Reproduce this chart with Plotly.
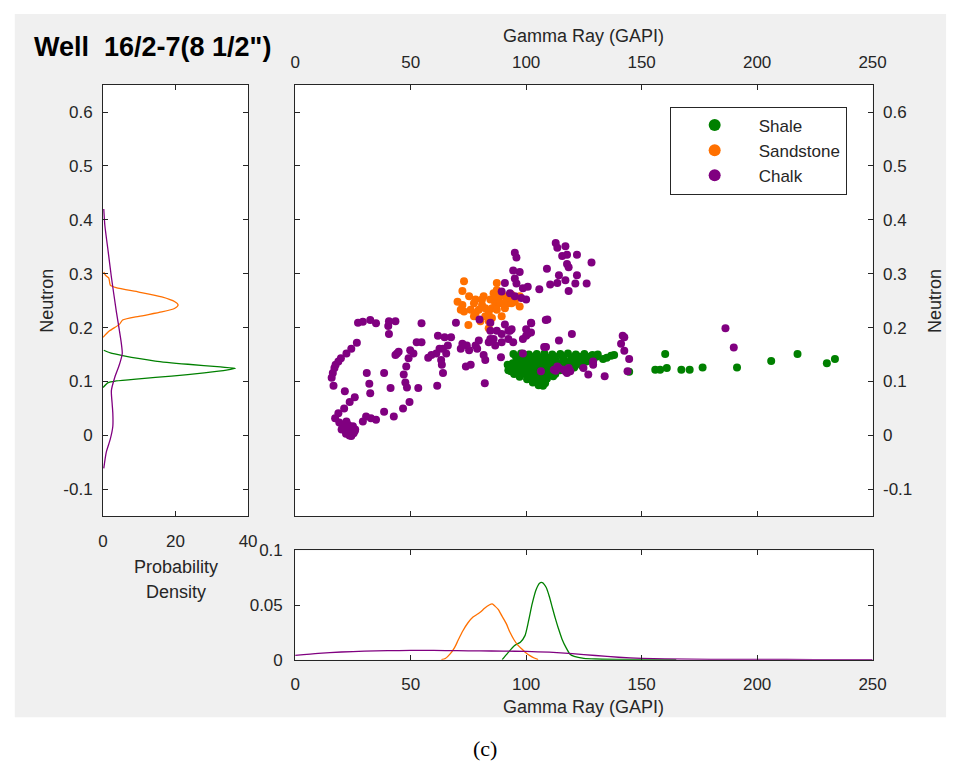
import plotly.graph_objects as go

# ---------------------------------------------------------------- data
# Gamma Ray (GAPI) vs Neutron samples per lithology
shale_gr = [94.5, 97.8, 101.2, 104.6, 107.9, 111.3, 114.8, 118.1, 121.5, 125.2, 128.7,
            95.6, 98.9, 102.3, 105.7, 109.0, 112.4, 115.9, 119.6, 123.0, 126.8,
            96.3, 99.7, 103.1, 106.2, 109.6, 112.9, 116.4, 120.1,
            94.2, 97.4, 100.6, 103.8, 106.9, 110.2, 113.6, 117.3,
            93.1, 96.2, 99.3, 102.1, 104.9, 107.8, 110.7, 114.0, 118.2,
            92.6, 95.4, 98.5, 101.3, 104.1, 106.8, 109.6, 112.5, 115.8,
            93.4, 96.6, 99.8, 102.7, 105.5, 108.4, 111.3, 114.6,
            94.8, 98.1, 101.0, 103.9, 106.7, 109.5, 112.6,
            97.2, 100.3, 103.2, 106.0, 108.9, 111.7,
            100.4, 103.3, 106.1, 109.0,
            102.9, 105.6, 108.2,
            105.4, 107.3, 92.3, 92.0,
            121.8, 123.9, 126.1, 119.4, 122.6, 124.2, 117.9, 120.8, 130.4, 134.9, 138.1,
            124.8, 129.0, 133.3, 136.8, 131.0, 128.0, 144.6,
            160.2, 155.9, 158.0, 160.9, 167.2, 170.8, 176.4, 191.3, 206.1, 217.5, 230.2, 233.7]
shale_nphi = [0.151, 0.152, 0.150, 0.151, 0.152, 0.150, 0.151, 0.152, 0.150, 0.151, 0.149,
              0.146, 0.144, 0.146, 0.145, 0.144, 0.146, 0.145, 0.144, 0.146, 0.143,
              0.139, 0.141, 0.140, 0.139, 0.141, 0.139, 0.140, 0.139,
              0.134, 0.136, 0.135, 0.134, 0.136, 0.135, 0.134, 0.136,
              0.129, 0.131, 0.130, 0.129, 0.131, 0.130, 0.129, 0.131, 0.129,
              0.125, 0.124, 0.126, 0.125, 0.124, 0.126, 0.125, 0.124, 0.126,
              0.119, 0.121, 0.120, 0.119, 0.121, 0.120, 0.119, 0.121,
              0.114, 0.116, 0.115, 0.114, 0.116, 0.115, 0.114,
              0.109, 0.111, 0.110, 0.109, 0.111, 0.110,
              0.104, 0.105, 0.103, 0.105,
              0.098, 0.099, 0.097,
              0.093, 0.092, 0.121, 0.131,
              0.136, 0.139, 0.137, 0.131, 0.133, 0.129, 0.125, 0.126, 0.146, 0.144, 0.149,
              0.143, 0.145, 0.142, 0.148, 0.150, 0.147, 0.118,
              0.151, 0.122, 0.122, 0.125, 0.122, 0.122, 0.126, 0.126, 0.138, 0.151, 0.134, 0.142]

sand_gr = [73.1, 87.3, 72.4, 75.3, 70.3, 78.1, 81.6, 85.9, 88.0, 90.8, 93.7, 97.2, 97.2,
           92.3, 86.6, 80.9, 76.0, 73.1, 78.1, 83.8, 89.4, 85.2, 80.2, 75.0, 83.8, 90.8,
           95.1, 77.4, 79.5, 82.3, 85.2, 87.3, 84.5, 86.6, 88.7, 82.3, 71.7, 72.4, 92.3,
           87.3, 80.9, 77.4, 93.7, 83.8, 90.1]
sand_nphi = [0.286, 0.283, 0.268, 0.258, 0.248, 0.252, 0.258, 0.264, 0.255, 0.258, 0.261, 0.258, 0.239,
             0.245, 0.245, 0.242, 0.233, 0.230, 0.227, 0.227, 0.221, 0.218, 0.212, 0.205, 0.199, 0.236,
             0.248, 0.245, 0.233, 0.236, 0.236, 0.233, 0.252, 0.258, 0.245, 0.221, 0.233, 0.242, 0.254,
             0.270, 0.252, 0.221, 0.245, 0.212, 0.245]

chalk_gr = [15.8, 16.3, 17.0, 17.5, 18.7, 19.8, 22.2, 24.3, 26.7, 16.6, 21.5, 23.6, 25.8, 21.2,
            18.7, 17.3, 19.1, 20.1, 21.5, 22.9, 24.3, 25.8, 23.6, 22.2, 25.0, 29.3, 30.7, 32.8,
            35.0, 38.5, 42.7, 46.7, 49.5, 53.3, 61.5, 64.0, 63.5, 59.0, 57.6, 54.7, 52.6, 51.2,
            49.8, 49.1, 48.1, 47.0, 47.7, 48.4, 44.1, 43.4, 44.8, 41.3, 38.5, 32.1, 31.0, 32.5,
            27.2, 29.3, 32.5, 35.0, 40.6, 43.4, 40.3, 40.6, 54.7,
            61.8, 64.7, 67.5, 66.1, 62.5, 61.1, 65.4, 63.2, 69.6, 72.4, 71.7, 75.3, 78.1, 79.5,
            79.8, 82.3, 81.6, 84.5, 85.9, 87.3, 89.4, 92.3, 93.7, 90.8, 94.4, 84.5, 84.5, 89.4,
            98.6, 100.7, 102.1, 102.1, 109.2, 114.2, 119.8, 89.1, 82.1, 73.9, 76.0, 74.3, 98.6,
            108.6, 78.8, 83.8, 86.6, 92.3, 100.0, 64.0,
            95.1, 95.8, 94.4, 97.2, 95.1, 90.8, 95.8, 98.6, 100.7, 105.7, 95.1, 97.9, 100.0,
            93.0, 109.0, 112.8, 113.5, 117.0, 115.6, 117.7, 122.0, 117.7, 118.4, 114.2, 117.0,
            121.3, 126.2, 110.4, 113.5, 118.4, 128.3, 122.0, 89.4,
            106.4, 112.0, 113.5, 116.3, 117.7, 119.1, 124.8, 126.9, 129.0, 134.0, 129.0,
            118.4, 117.0, 114.2, 112.8,
            102.2, 108.5, 93.0, 100.0, 107.8,
            141.8, 142.5, 141.1, 142.5, 144.6, 143.9, 186.3, 189.9,
            21.5, 23.0, 24.5, 22.0, 23.5, 25.3, 20.5, 22.8, 24.8, 26.0]
chalk_nphi = [0.107, 0.116, 0.125, 0.131, 0.137, 0.143, 0.152, 0.161, 0.172, 0.092, 0.082, 0.062, 0.071, 0.050,
              0.041, 0.032, 0.024, 0.011, 0.014, 0.005, -0.001, 0.008, 0.017, 0.026, 0.017, 0.026, 0.035, 0.032,
              0.029, 0.044, 0.035, 0.050, 0.062, 0.088, 0.092, 0.116, 0.131, 0.149, 0.144, 0.173, 0.173, 0.152,
              0.158, 0.143, 0.128, 0.113, 0.098, 0.089, 0.152, 0.149, 0.155, 0.088, 0.116, 0.096, 0.116, 0.078,
              0.209, 0.211, 0.214, 0.208, 0.212, 0.212, 0.203, 0.188, 0.208,
              0.185, 0.182, 0.182, 0.167, 0.161, 0.152, 0.152, 0.140, 0.209, 0.170, 0.161, 0.158, 0.167, 0.176,
              0.215, 0.140, 0.149, 0.179, 0.179, 0.194, 0.188, 0.194, 0.197, 0.206, 0.173, 0.209, 0.194, 0.173,
              0.179, 0.188, 0.191, 0.209, 0.215, 0.176, 0.188, 0.145, 0.097, 0.128, 0.131, 0.167, 0.152,
              0.164, 0.161, 0.173, 0.167, 0.179, 0.197, 0.161,
              0.339, 0.330, 0.306, 0.303, 0.291, 0.283, 0.282, 0.273, 0.276, 0.271, 0.258, 0.255, 0.252,
              0.264, 0.309, 0.357, 0.348, 0.351, 0.333, 0.335, 0.335, 0.318, 0.312, 0.297, 0.288,
              0.282, 0.282, 0.280, 0.283, 0.268, 0.321, 0.297, 0.267,
              0.119, 0.122, 0.128, 0.122, 0.116, 0.119, 0.125, 0.113, 0.137, 0.110, 0.131,
              0.125, 0.119, 0.125, 0.120,
              0.208, 0.214, 0.194, 0.185, 0.164,
              0.185, 0.182, 0.170, 0.157, 0.142, 0.119, 0.199, 0.163,
              0.010, 0.012, 0.009, 0.003, 0.000, 0.004, 0.018, 0.020, 0.014, 0.011]

# Neutron probability density (left panel): density, neutron
shale_nd_pdf = [0.0, 1.4, 3.6, 9.9, 18.9, 27.9, 34.0, 36.5, 32.4, 23.4, 14.4, 5.4, 2.0, 0.2]
shale_nd_y = [0.089, 0.098, 0.101, 0.105, 0.110, 0.116, 0.121, 0.1245, 0.127, 0.132, 0.138, 0.148, 0.153, 0.158]
sand_nd_pdf = [0.2, 0.7, 1.6, 2.0, 3.6, 9.9, 16.2, 19.8, 20.7, 19.8, 16.2, 9.9, 5.4, 4.5, 1.8, 0.0]
sand_nd_y = [0.303, 0.297, 0.292, 0.279, 0.274, 0.266, 0.257, 0.248, 0.242, 0.236, 0.229, 0.221, 0.214, 0.206, 0.194, 0.182]
chalk_nd_pdf = [0.2, 0.5, 1.4, 2.3, 3.6, 5.0, 5.3, 4.5, 3.2, 2.3, 2.5, 2.7, 2.7, 2.0, 0.9, 0.2]
chalk_nd_y = [0.42, 0.39, 0.342, 0.294, 0.233, 0.173, 0.152, 0.131, 0.107, 0.083, 0.06, 0.041, 0.017, -0.007, -0.031, -0.061]

# Gamma Ray probability density (bottom panel): gamma ray, density
shale_gr_x = [89.6, 92, 95, 97.5, 99.5, 101, 102.6, 104.3, 105.8, 107, 108.7, 110, 111.3, 112.6,
              113.9, 115.5, 117.4, 119, 120.8, 125, 130, 140, 150, 165]
shale_gr_pdf = [0, 0.006, 0.013, 0.016, 0.022, 0.035, 0.051, 0.064, 0.070, 0.0705, 0.066, 0.058, 0.048, 0.038,
                0.029, 0.019, 0.0105, 0.005, 0.003, 0.0012, 0.0006, 0.0003, 0.0001, 0]
sand_gr_x = [63.3, 65, 67, 69, 70.6, 72.5, 74.9, 77, 79.2, 80.5, 82, 84, 85.3, 86.5, 87.9, 89.5,
             91.4, 93, 94.8, 96.5, 98.3, 100, 101.8, 103.5, 105.2]
sand_gr_pdf = [0, 0.001, 0.005, 0.011, 0.018, 0.026, 0.034, 0.039, 0.042, 0.044, 0.047, 0.050, 0.051, 0.049,
               0.046, 0.040, 0.033, 0.025, 0.018, 0.013, 0.0095, 0.006, 0.0035, 0.0015, 0]
chalk_gr_x = [0, 10, 20, 30, 40, 50, 60, 70, 80, 90, 100, 110, 120, 130, 140, 150, 160, 180, 200, 225, 250]
chalk_gr_pdf = [0.0039, 0.0057, 0.0070, 0.0078, 0.0082, 0.0084, 0.0084, 0.0082, 0.0080, 0.0078, 0.0075,
                0.0068, 0.0055, 0.0038, 0.0022, 0.0012, 0.0007, 0.0003, 0.0002, 0.0001, 0.0001]

# tick definitions
gr_ticks = [0, 50, 100, 150, 200, 250]
nphi_ticks = [-0.1, 0, 0.1, 0.2, 0.3, 0.4, 0.5, 0.6]
nphi_labels = ["-0.1", "0", "0.1", "0.2", "0.3", "0.4", "0.5", "0.6"]
nd_pdf_ticks = [0, 20, 40]
gr_pdf_ticks = [0, 0.05, 0.1]
gr_pdf_labels = ["0", "0.05", "0.1"]

colors = {"Shale": "#008000", "Sandstone": "#ff7000", "Chalk": "#800080"}

# ---------------------------------------------------------------- layout helpers
W, H = 966, 775


def fx(p):
    return p / W


def fy(p):
    return 1 - p / H


FONT = "Liberation Sans, Arial, sans-serif"
INK = "#262626"
TICKFONT = dict(family=FONT, size=17, color=INK)

fig = go.Figure()

# left panel: neutron densities
for name, xs, ys in [("Shale", shale_nd_pdf, shale_nd_y),
                     ("Sandstone", sand_nd_pdf, sand_nd_y),
                     ("Chalk", chalk_nd_pdf, chalk_nd_y)]:
    fig.add_trace(go.Scatter(x=xs, y=ys, mode="lines", xaxis="x", yaxis="y",
                             line=dict(color=colors[name], width=1.3, shape="spline", smoothing=0.6),
                             showlegend=False, hoverinfo="skip"))

# main panel: cross-plot
for name, xs, ys in [("Shale", shale_gr, shale_nphi),
                     ("Sandstone", sand_gr, sand_nphi),
                     ("Chalk", chalk_gr, chalk_nphi)]:
    fig.add_trace(go.Scatter(x=xs, y=ys, mode="markers", xaxis="x2", yaxis="y2", name=name,
                             marker=dict(color=colors[name], size=8, line=dict(width=0))))

# bottom panel: gamma ray densities
for name, xs, ys in [("Shale", shale_gr_x, shale_gr_pdf),
                     ("Sandstone", sand_gr_x, sand_gr_pdf),
                     ("Chalk", chalk_gr_x, chalk_gr_pdf)]:
    fig.add_trace(go.Scatter(x=xs, y=ys, mode="lines", xaxis="x3", yaxis="y3",
                             line=dict(color=colors[name], width=1.3, shape="spline", smoothing=0.6),
                             showlegend=False, hoverinfo="skip"))

axis_common = dict(showline=True, linecolor=INK, linewidth=1, mirror="ticks",
                   ticks="inside", ticklen=5, tickcolor=INK, tickwidth=1,
                   showgrid=False, zeroline=False, tickfont=TICKFONT, fixedrange=True)

dom_main_x = [fx(296), fx(885)]
dom_left_x = [fx(100), fx(248)]
dom_upper_y = [fy(520), fy(78)]
dom_bottom_y = [fy(667), fy(555)]

fig.update_layout(
    width=W, height=H,
    margin=dict(l=0, r=0, t=0, b=0),
    paper_bgcolor="white",
    plot_bgcolor="white",
    xaxis=dict(axis_common, domain=dom_left_x, range=[0, 40], tickvals=nd_pdf_ticks,
               anchor="y", ticklabelstandoff=9),
    yaxis=dict(axis_common, domain=dom_upper_y, range=[-0.15, 0.65], tickvals=nphi_ticks,
               ticktext=nphi_labels, anchor="x", ticklabelstandoff=6),
    xaxis2=dict(axis_common, domain=dom_main_x, range=[0, 250], tickvals=gr_ticks,
                side="top", anchor="y2", ticklabelstandoff=9),
    yaxis2=dict(axis_common, domain=dom_upper_y, range=[-0.15, 0.65], tickvals=nphi_ticks,
                ticktext=nphi_labels, side="right", anchor="x2", ticklabelstandoff=6),
    xaxis3=dict(axis_common, domain=dom_main_x, range=[0, 250], tickvals=gr_ticks,
                anchor="y3", ticklabelstandoff=9),
    yaxis3=dict(axis_common, domain=dom_bottom_y, range=[0, 0.1], tickvals=gr_pdf_ticks,
                ticktext=gr_pdf_labels, anchor="x3", ticklabelstandoff=8),
    legend=dict(x=fx(678), y=fy(100), xanchor="left", yanchor="top",
                bgcolor="white", bordercolor=INK, borderwidth=1,
                font=dict(family=FONT, size=17, color=INK),
                itemsizing="constant", itemwidth=78, tracegroupgap=0),
    showlegend=True,
)

# grey figure background and white axes faces
shapes = [dict(type="rect", xref="paper", yref="paper", x0=fx(10), x1=fx(960), y0=fy(726), y1=fy(5),
               fillcolor="#f0f0f0", line=dict(width=0), layer="below")]
for xa, ya in [("x", "y"), ("x2", "y2"), ("x3", "y3")]:
    shapes.append(dict(type="rect", xref=f"{xa} domain", yref=f"{ya} domain", x0=0, x1=1, y0=0, y1=1,
                       fillcolor="white", line=dict(width=0), layer="below"))
fig.update_layout(shapes=shapes)

LABELFONT = dict(family=FONT, size=18, color=INK)
annotations = [
    dict(text="<b>Well  16/2-7(8 1/2\")</b>", x=fx(28), y=fy(39), xanchor="left", yanchor="middle",
         font=dict(family=FONT, size=27, color="black")),
    dict(text="Gamma Ray (GAPI)", x=fx(590), y=fy(28), xanchor="center", yanchor="middle", font=LABELFONT),
    dict(text="Gamma Ray (GAPI)", x=fx(590), y=fy(716), xanchor="center", yanchor="middle", font=LABELFONT),
    dict(text="Neutron", x=fx(42), y=fy(299), xanchor="center", yanchor="middle", textangle=-90, font=LABELFONT),
    dict(text="Neutron", x=fx(948), y=fy(299), xanchor="center", yanchor="middle", textangle=-90, font=LABELFONT),
    dict(text="Probability", x=fx(174), y=fy(572), xanchor="center", yanchor="middle", font=LABELFONT),
    dict(text="Density", x=fx(174), y=fy(598), xanchor="center", yanchor="middle", font=LABELFONT),
    dict(text="(c)", x=fx(490), y=fy(758), xanchor="center", yanchor="middle",
         font=dict(family="Liberation Serif, DejaVu Serif, serif", size=22, color="black")),
]
for a in annotations:
    a.update(xref="paper", yref="paper", showarrow=False)
fig.update_layout(annotations=annotations)

fig.write_html("out.html")
